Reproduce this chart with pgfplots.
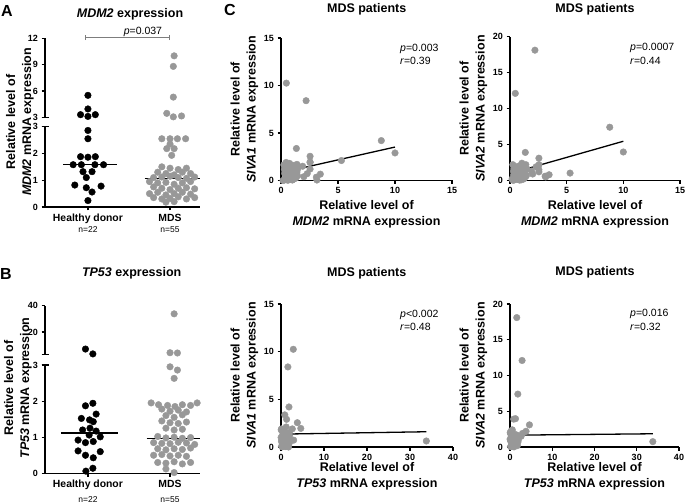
\documentclass[border=0pt]{standalone}
\usepackage{fontspec}
\setmainfont{Liberation Sans}
\usepackage{pgfplots}
\usepackage{pgfplotstable}
\pgfplotsset{compat=1.18}

\definecolor{dotgray}{RGB}{152,152,152}
\definecolor{bargray}{RGB}{125,125,125}

\newcommand{\labfont}{\bfseries\fontsize{12.5}{16}\selectfont}
\newcommand{\tickfont}{\bfseries\fontsize{9}{10}\selectfont}
\newcommand{\catfont}{\bfseries\fontsize{10.4}{12}\selectfont}
\newcommand{\nfont}{\fontsize{8.5}{10}\selectfont}
\newcommand{\statfont}{\fontsize{10.5}{12}\selectfont}
\newcommand{\letfont}{\bfseries\fontsize{16}{18}\selectfont}

% MDS patients (n=55): relative mRNA levels
\pgfplotstableread{
mdm2  tp53  siva1 siva2
10.0  1.30  2.90  3.96
8.80  1.85  4.20  7.40
5.30  1.20  2.10  1.03
0.47  2.86  10.25 12.1
2.20  1.60  8.40  18.1
1.35  0.88  3.37  3.90
0.90  33.8  0.63  0.75
2.55  4.60  1.95  3.10
2.55  3.80  2.55  2.20
3.45  0.80  0.67  0.80
3.10  0.60  0.35  0.60
3.15  1.10  0.05  0.50
2.30  2.95  0.72  1.90
2.55  2.63  1.90  1.50
2.55  1.95  1.20  1.20
2.00  1.92  0.40  0.90
1.90  1.90  1.50  1.30
1.50  0.45  1.30  1.60
1.45  1.88  0.50  0.70
1.40  0.20  1.70  2.20
1.40  1.05  0.90  0.60
1.30  0.62  0.25  0.40
1.30  1.70  1.10  1.30
1.25  0.10  0.60  0.95
1.20  0.90  1.40  1.80
1.20  0.35  0.30  0.20
1.15  1.45  0.80  0.55
1.12  0.75  0.15  0.30
1.10  0.02  1.00  1.10
1.07  1.35  0.45  0.85
1.05  0.55  1.60  2.40
1.00  0.28  0.05  0.10
1.00  1.65  0.70  0.45
0.95  0.97  0.35  0.65
0.92  0.40  1.20  1.50
0.85  0.15  0.10  0.05
0.80  1.90  0.95  1.20
0.80  0.70  0.20  0.35
0.75  0.05  1.80  2.00
0.70  1.15  0.55  0.80
0.70  0.50  0.30  0.25
0.65  0.85  1.50  1.40
0.60  0.25  0.02  0.15
0.55  1.40  0.85  1.00
0.50  0.65  0.40  0.50
0.45  0.12  1.90  1.90
0.40  1.00  0.65  0.90
0.38  0.30  0.10  0.10
0.35  1.50  1.35  1.70
0.35  0.78  0.20  0.30
0.32  0.22  0.75  0.75
0.30  1.86  1.15  1.30
0.28  0.95  0.05  0.02
0.25  0.42  1.65  2.20
0.18  1.75  0.00  0.20
}\mdstable

\pgfplotsset{
  every non boxed x axis/.append style={x axis line style={-}, xtick align=outside},
  every non boxed y axis/.append style={y axis line style={-}, ytick align=outside},
  base/.style={
    scale only axis, anchor=south west, clip=false,
    axis line style={line width=1.2pt},
    tick style={black, line width=1.2pt},
    tick align=outside, major tick length=3.5pt,
    /pgf/number format/assume math mode=true,
    tick label style={font=\tickfont},
  },
  dotplot/.style={base, xmin=-0.523, xmax=1.365, width=155pt},
  lower/.style={dotplot, axis x line=bottom, axis y line=left, ymin=0, ymax=3,
    ytick={0,1,2,3}, xtick={0,1}, xticklabels={Healthy donor, MDS},
    xticklabel style={font=\catfont}},
  upper/.style={dotplot, axis x line=none, axis y line=left},
  scat/.style={base, axis x line=bottom, axis y line=left, xmin=0, ymin=0,
    xlabel style={font=\labfont, align=center,
      at={([yshift=-19.5pt]rel axis cs:0.5,0)}, anchor=north, inner sep=0pt},
    ylabel style={font=\labfont, align=center,
      at={([xshift=-36.5pt]rel axis cs:0,0.5)}, anchor=center, inner sep=0pt}},
  scatlow/.style={scat,
    xlabel style={at={([yshift=-15pt]rel axis cs:0.5,0)}}},
  hd/.style={only marks, mark=*, mark size=3.3pt, color=black},
  mds/.style={only marks, mark=*, mark size=3.3pt, color=dotgray},
  medline/.style={black, line width=1.3pt, no marks},
  fitline/.style={black, line width=1.3pt, no marks},
}

\begin{document}
\begin{tikzpicture}
\useasboundingbox (0pt,0pt) rectangle (685pt,501pt);

% ---------------- A: MDM2 ----------------
\begin{axis}[lower, at={(45pt,294pt)}, height=80.3pt]
\addplot[hd] coordinates {
  (0,2.86) (0,2.55) (-0.09,1.88) (0,1.86) (0.09,1.88)
  (-0.18,1.58) (-0.08,1.58) (0.085,1.58) (0.19,1.58)
  (-0.06,1.32) (0.05,1.32) (-0.02,1.1) (-0.16,0.82) (-0.02,0.72)
  (0.16,0.78) (0.05,0.56) (0,0.24)};
\addplot[mds] coordinates {
  (0.9,2.55) (1.0,2.55) (1.09,2.55) (1.19,2.55)
  (1.0,2.35) (0.96,2.18) (1.05,2.18) (1.02,1.93)
  (0.9,1.5) (1.0,1.45) (1.1,1.4) (1.2,1.45)
  (0.85,1.3) (0.95,1.25) (1.05,1.2) (1.15,1.3) (1.25,1.25)
  (0.8,1.1) (0.9,1.12) (1.0,1.15) (1.1,1.1) (1.2,1.07) (1.3,1.12)
  (0.75,0.95) (0.85,0.9) (0.95,0.92) (1.05,0.85) (1.15,0.9) (1.25,0.95)
  (0.8,0.75) (0.9,0.7) (1.0,0.65) (1.1,0.7) (1.2,0.72) (1.3,0.68)
  (0.75,0.5) (0.85,0.55) (0.95,0.45) (1.05,0.5) (1.15,0.55) (1.25,0.48)
  (0.8,0.35) (0.9,0.3) (1.0,0.32) (1.1,0.38) (1.2,0.3) (1.3,0.35)
  (0.95,0.18) (1.05,0.2)};
\addplot[medline] coordinates {(-0.30,1.58) (0.36,1.58)};
\addplot[medline] coordinates {(0.69,1.07) (1.365,1.07)};
\draw[line width=1.2pt] ([xshift=-3.5pt]rel axis cs:0,1) -- ([xshift=3.5pt]rel axis cs:0,1);
\node[font=\nfont] at ([yshift=-23pt]axis cs:0,0) {n=22};
\node[font=\nfont] at ([yshift=-23pt]axis cs:1,0) {n=55};
\end{axis}

\begin{axis}[upper, at={(45pt,383.7pt)}, height=79pt, ymin=3, ymax=12, ytick={3,6,9,12}]
\addplot[hd] coordinates {(0,5.5) (0,3.95) (-0.09,3.3) (0,3.1) (0.09,3.3)};
\addplot[mds] coordinates {(1.05,10.0) (1.04,8.8) (1.04,5.3) (0.96,3.45) (1.04,3.05) (1.14,3.15)};
\draw[line width=1.2pt] ([xshift=-3.5pt]rel axis cs:0,0) -- ([xshift=3.5pt]rel axis cs:0,0);
\draw[bargray, line width=1pt] (axis cs:-0.024,12.07) -- (axis cs:0.988,12.07);
\draw[bargray, line width=1pt] ([yshift=-2.5pt]axis cs:-0.024,12.07) -- ([yshift=2.5pt]axis cs:-0.024,12.07);
\draw[bargray, line width=1pt] ([yshift=-2.5pt]axis cs:0.988,12.07) -- ([yshift=2.5pt]axis cs:0.988,12.07);
\node[font=\statfont, anchor=base] at ([yshift=3pt]axis cs:0.67,12.07) {\textit{p}=0.037};
\end{axis}

% ---------------- B: TP53 ----------------
\begin{axis}[lower, at={(45pt,27.7pt)}, height=108.3pt]
\addplot[hd] coordinates {
  (-0.03,1.87) (0.06,1.94) (0.10,1.64) (-0.08,1.52) (0.02,1.48) (0.065,1.43)
  (-0.065,1.2) (0.025,1.25) (0.10,1.17) (0.015,1.06) (0.15,1.01)
  (-0.12,0.92) (-0.03,0.85) (0.065,0.88) (-0.12,0.62) (0.15,0.6)
  (-0.03,0.5) (0.065,0.43) (0.06,0.14) (-0.025,0.06)};
\addplot[mds] coordinates {
  (1.0,2.95) (1.09,2.86) (1.05,2.63)
  (0.77,1.95) (0.86,1.9) (0.97,1.88) (1.06,1.85) (1.15,1.9) (1.25,1.88) (1.33,1.95)
  (0.9,1.78) (1.0,1.72) (1.1,1.75) (1.2,1.7)
  (0.95,1.6) (1.05,1.55) (1.15,1.62)
  (0.9,1.45) (1.0,1.4) (1.1,1.38) (1.2,1.42)
  (0.95,1.25) (1.05,1.2) (1.15,1.22)
  (0.85,1.02) (0.95,0.98) (1.05,1.0) (1.15,0.97) (1.25,0.99)
  (0.8,0.85) (0.9,0.83) (1.0,0.82) (1.1,0.86) (1.2,0.84) (1.3,0.8)
  (0.85,0.68) (0.95,0.65) (1.05,0.68) (1.15,0.66) (1.25,0.7)
  (0.8,0.5) (0.9,0.52) (1.0,0.48) (1.1,0.5) (1.2,0.47)
  (0.85,0.3) (0.95,0.28) (1.05,0.32) (1.15,0.26) (1.25,0.3)
  (0.95,0.12) (1.05,0.02)};
\addplot[medline] coordinates {(-0.33,1.12) (0.37,1.12)};
\addplot[medline] coordinates {(0.715,0.97) (1.365,0.97)};
\draw[line width=1.2pt] ([xshift=-3.5pt]rel axis cs:0,1) -- ([xshift=3.5pt]rel axis cs:0,1);
\node[font=\nfont] at ([yshift=-26pt]axis cs:0,0) {n=22};
\node[font=\nfont] at ([yshift=-26pt]axis cs:1,0) {n=55};
\end{axis}

\begin{axis}[upper, at={(45pt,146.7pt)}, height=48.6pt, ymin=3, ymax=40, ytick={20,40}]
\addplot[hd] coordinates {(-0.03,7.0) (0.06,3.3)};
\addplot[mds] coordinates {(1.05,33.8) (1.0,4.2) (1.09,4.0)};
\draw[line width=1.2pt] ([xshift=-3.5pt]rel axis cs:0,0) -- ([xshift=3.5pt]rel axis cs:0,0);
\end{axis}

% ---------------- C: correlations ----------------
\begin{axis}[scat, at={(281pt,320.5pt)}, width=171pt, height=142.5pt, xmax=15, ymax=15,
  xtick={0,5,10,15}, ytick={0,5,10,15},
  xlabel={Relative level of\\\textit{MDM2} mRNA expression},
  ylabel={Relative level of\\\textit{SIVA1} mRNA expression}]
\addplot[mds] table[x=mdm2, y=siva1] {\mdstable};
\addplot[fitline] coordinates {(0.18,0.87) (10.0,3.52)};
\end{axis}

\begin{axis}[scat, at={(510pt,320.5pt)}, width=170pt, height=144pt, xmax=15, ymax=20,
  xtick={0,5,10,15}, ytick={0,5,10,15,20},
  xlabel={Relative level of\\\textit{MDM2} mRNA expression},
  ylabel={Relative level of\\\textit{SIVA2} mRNA expression}]
\addplot[mds] table[x=mdm2, y=siva2] {\mdstable};
\addplot[fitline] coordinates {(0.18,1.05) (10.0,5.45)};
\end{axis}

\begin{axis}[scatlow, at={(281pt,54pt)}, width=172pt, height=143pt, xmax=40, ymax=15,
  xtick={0,10,20,30,40}, ytick={0,5,10,15},
  xlabel={Relative level of\\\textit{TP53} mRNA expression},
  ylabel={Relative level of\\\textit{SIVA1} mRNA expression}]
\addplot[mds] table[x=tp53, y=siva1] {\mdstable};
\addplot[fitline] coordinates {(0.02,1.35) (33.8,1.6)};
\end{axis}

\begin{axis}[scatlow, at={(510pt,54pt)}, width=169pt, height=143pt, xmax=40, ymax=20,
  xtick={0,10,20,30,40}, ytick={0,5,10,15,20},
  xlabel={Relative level of\\\textit{TP53} mRNA expression},
  ylabel={Relative level of\\\textit{SIVA2} mRNA expression}]
\addplot[mds] table[x=tp53, y=siva2] {\mdstable};
\addplot[fitline] coordinates {(0.02,1.65) (33.8,1.85)};
\end{axis}

% ---------------- labels ----------------
\node[font=\letfont] at (7pt,489.5pt) {A};
\node[font=\letfont] at (6pt,227pt) {B};
\node[font=\letfont] at (230pt,491pt) {C};

\node[font=\labfont] at (130pt,486.5pt) {\textit{MDM2} expression};
\node[font=\labfont] at (131.7pt,228pt) {\textit{TP53} expression};
\node[font=\labfont] at (366.7pt,492pt) {MDS patients};
\node[font=\labfont] at (595pt,492pt) {MDS patients};
\node[font=\labfont] at (366.7pt,228pt) {MDS patients};
\node[font=\labfont] at (595pt,229pt) {MDS patients};

\node[font=\labfont, rotate=90, align=center] at (20pt,379pt) {Relative level of\\\textit{MDM2} mRNA expression};
\node[font=\labfont, rotate=90, align=center] at (18pt,113pt) {Relative level of\\\textit{TP53} mRNA expression};

\node[font=\statfont, anchor=west] at (396.7pt,452pt) {\textit{p}=0.003};
\node[font=\statfont, anchor=west] at (396.7pt,440pt) {\textit{r}=0.39};
\node[font=\statfont, anchor=west] at (626.7pt,453.3pt) {\textit{p}=0.0007};
\node[font=\statfont, anchor=west] at (626.7pt,440.3pt) {\textit{r}=0.44};
\node[font=\statfont, anchor=west] at (396.7pt,186pt) {\textit{p}<0.002};
\node[font=\statfont, anchor=west] at (396.7pt,173.7pt) {\textit{r}=0.48};
\node[font=\statfont, anchor=west] at (626.7pt,186.7pt) {\textit{p}=0.016};
\node[font=\statfont, anchor=west] at (626.7pt,173.7pt) {\textit{r}=0.32};
\end{tikzpicture}
\end{document}
